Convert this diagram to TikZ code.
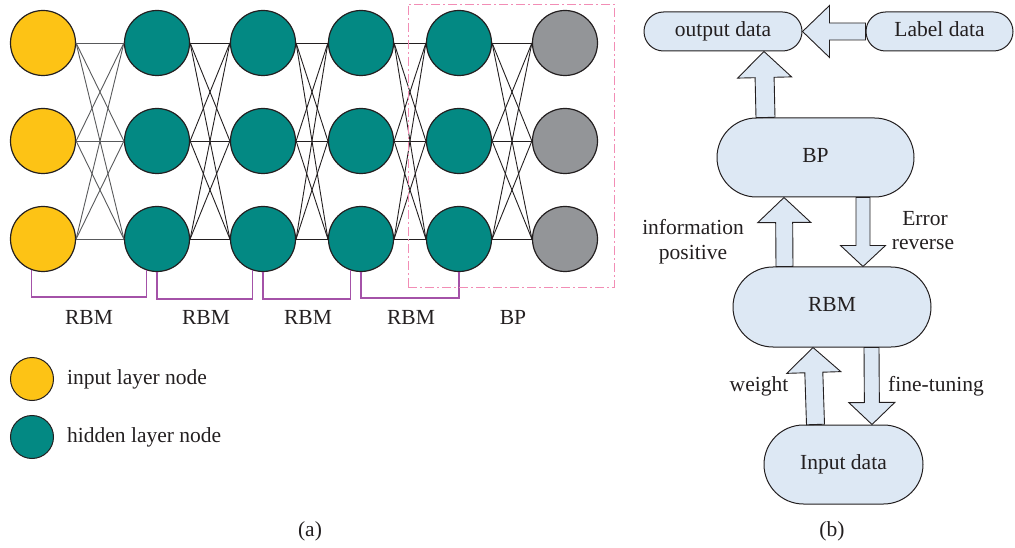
\documentclass[tikz,border=0pt]{standalone}
\usepackage{fontspec}
\setmainfont{Liberation Serif}
\usetikzlibrary{calc,shapes.misc}

\definecolor{inyellow}{HTML}{FDC315}
\definecolor{hidteal}{HTML}{038983}
\definecolor{outgrey}{HTML}{939598}
\definecolor{inkdark}{HTML}{231F20}
\definecolor{linkgrey}{HTML}{58595B}
\definecolor{rbmpurple}{HTML}{A452A8}
\definecolor{bppink}{HTML}{F28DB5}
\definecolor{boxblue}{HTML}{DDE8F4}

% block arrow: #1 tail, #2 tip, #3 shaft half width, #4 head half width, #5 head length
\newcommand\blockarrow[5]{%
  \path let \p1=(#1), \p2=(#2) in \pgfextra{%
    \pgfmathsetmacro\ballen{veclen(\x2-\x1,\y2-\y1)}%
    \pgfmathsetmacro\baang{atan2(\y2-\y1,\x2-\x1)}%
    \xdef\ballen{\ballen}\xdef\baang{\baang}\xdef\bax{\x1}\xdef\bay{\y1}};
  \draw[flowarrow,shift={(\bax,\bay)},rotate=\baang]
    (0,-#3) -- ({\ballen-#5},-#3) -- ({\ballen-#5},-#4) -- (\ballen,0)
    -- ({\ballen-#5},#4) -- ({\ballen-#5},#3) -- (0,#3) -- cycle;
}

\begin{document}
\begin{tikzpicture}[x=1pt,y=-1pt,
  font=\fontsize{21.5}{25}\selectfont, text=inkdark,
  neuron/.style={circle,draw=inkdark,line width=1.2pt,minimum size=65pt,inner sep=0pt},
  keydot/.style={circle,draw=inkdark,line width=1pt,minimum size=43pt,inner sep=0pt},
  link/.style={draw=inkdark,line width=0.9pt},
  firstlink/.style={draw=linkgrey,line width=0.9pt},
  bracket/.style={draw=rbmpurple,line width=1.3pt},
  flowbox/.style={rounded rectangle,draw=inkdark,line width=1pt,fill=boxblue,
    inner sep=0pt,text height=14pt,text depth=4.5pt},
  flowarrow/.style={draw=inkdark,line width=0.9pt,fill=boxblue,line join=miter},
  lbl/.style={anchor=base,inner sep=0pt},
]
\useasboundingbox (0,0) rectangle (1015,548);

% ---------- (a) network ----------
\foreach \r/\y in {1/43,2/141,3/239}{
  \node[neuron,fill=inyellow] (c1r\r) at (43,\y) {};
  \foreach \c/\x in {2/157,3/263,4/361,5/459}
    \node[neuron,fill=hidteal] (c\c r\r) at (\x,\y) {};
  \node[neuron,fill=outgrey] (c6r\r) at (565,\y) {};
}

% fully connected links between consecutive layers
\foreach \r in {1,2,3}
  \foreach \s in {1,2,3}{
    \draw[firstlink] (c1r\r.east) -- (c2r\s.west);
    \foreach \c/\d in {2/3,3/4,4/5,5/6}
      \draw[link] (c\c r\r.east) -- (c\d r\s.west);
  }

% RBM brackets
\draw[bracket] (c1r3.250) |- (c2r3.252 |- 0,297) -- (c2r3.252);
\draw[bracket] (c2r3.south) |- (c3r3.252 |- 0,299) -- (c3r3.252);
\draw[bracket] (c3r3.south) |- (c4r3.252 |- 0,299) -- (c4r3.252);
\draw[bracket] (c4r3.south) |- (c5r3.south |- 0,298) -- (c5r3.south);

% BP region
\node[draw=bppink,line width=0.9pt,dash pattern=on 9pt off 3pt on 2pt off 3pt,
      minimum width=206pt,minimum height=283pt,inner sep=0pt] (bpzone) at (511,145.5) {};

\node[lbl] (l1) at (89,324) {RBM};
\node[lbl] (l2) at (206,324) {RBM};
\node[lbl] (l3) at (308,324) {RBM};
\node[lbl] (l4) at (411,324) {RBM};
\node[lbl] (l5) at (513,324) {BP};

% legend
\node[keydot,fill=inyellow] (k1) at (32,379) {};
\node[keydot,fill=hidteal] (k2) at (32,437) {};
\node[anchor=base west,inner sep=0pt] (k1t) at (67,384) {input layer node};
\node[anchor=base west,inner sep=0pt] (k2t) at (67,442) {hidden layer node};

\node[lbl] (capa) at (310,536) {(a)};

% ---------- (b) flow ----------
\node[flowbox,minimum width=158pt,minimum height=39pt] (out) at (723,31.5) {output data};
\node[flowbox,minimum width=147pt,minimum height=39pt] (lab) at (939.5,31.5) {Label data};
\node[flowbox,minimum width=197pt,minimum height=79pt] (bp) at (815.5,157.5) {BP};
\node[flowbox,minimum width=198pt,minimum height=80pt] (rbm) at (832,307) {RBM};
\node[flowbox,minimum width=159pt,minimum height=79pt] (inp) at (843.5,464.5) {Input data};

\blockarrow{lab.west}{out.east}{8.5}{26}{27}
\blockarrow{$(bp.north)+(-50,0)$}{$(out.south)+(41,0)$}{9.5}{27}{26}
\blockarrow{$(rbm.north)+(-47.5,0)$}{$(bp.south)+(-31.5,0)$}{8.5}{26.5}{25}
\blockarrow{$(bp.south)+(47.5,0)$}{$(rbm.north)+(31,0)$}{7}{22.5}{21}
\blockarrow{$(inp.north)+(-28,0)$}{$(rbm.south)+(-19,0)$}{9}{27}{25}
\blockarrow{$(rbm.south)+(39.5,0)$}{$(inp.north)+(28.5,0)$}{7.5}{23}{22}

\node[lbl] (t1) at (693,235) {information};
\node[lbl] (t2) at (693,260) {positive};
\node[lbl] (t3) at (925,225.5) {Error};
\node[lbl] (t4) at (923,250) {reverse};
\node[lbl] (t5) at (759,391) {weight};
\node[lbl] (t6) at (936,391) {fine-tuning};

\node[lbl] (capb) at (832,536) {(b)};
\end{tikzpicture}
\end{document}
